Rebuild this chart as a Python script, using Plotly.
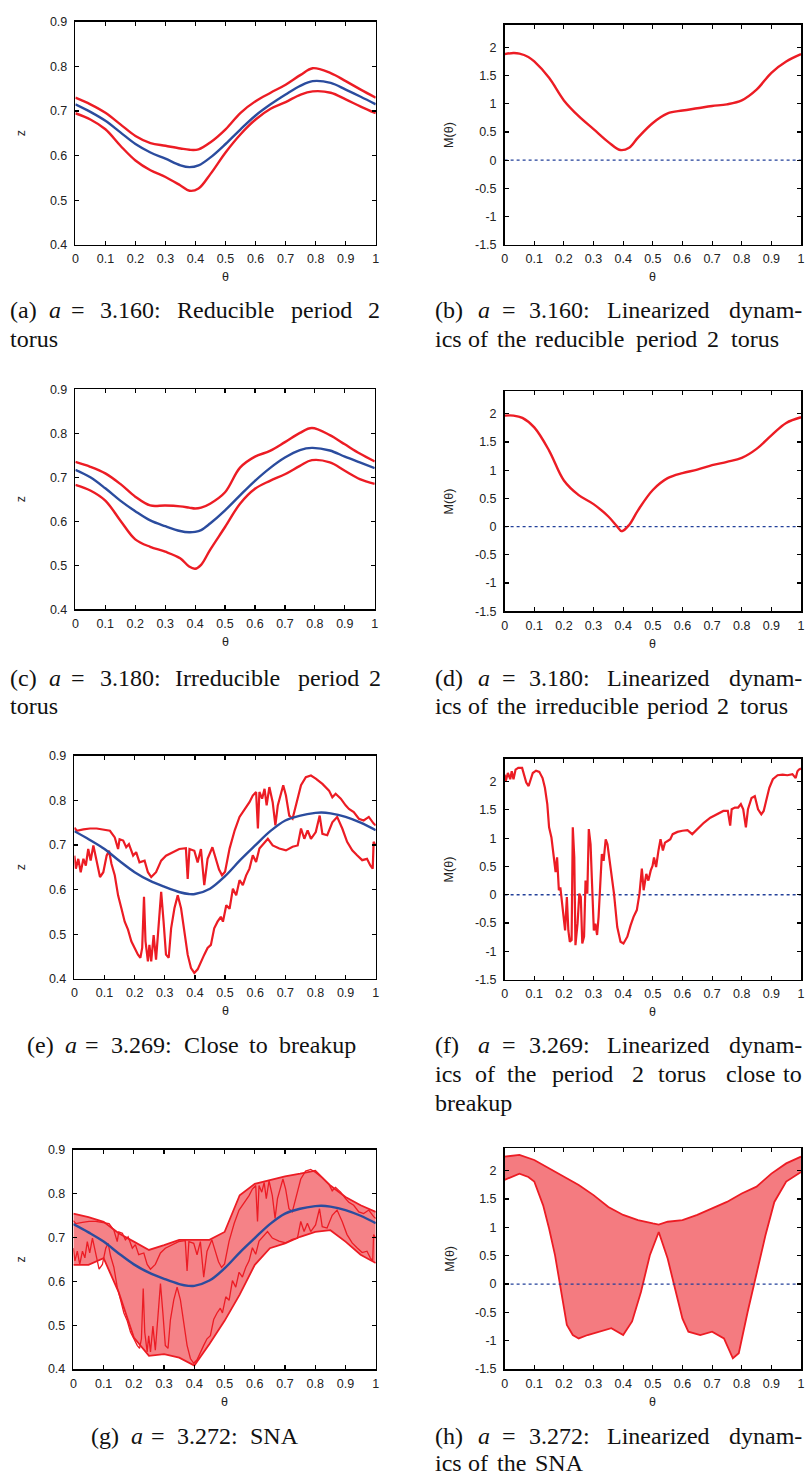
import plotly.graph_objects as go

W, H = 808, 1482
RED = "#ec1c24"
BLUE = "#2b4c9e"
NAVY = "#22409a"

# ---------------- data ----------------
x_ticks = [0, 0.1, 0.2, 0.3, 0.4, 0.5, 0.6, 0.7, 0.8, 0.9, 1.0]
x_ticktext = ["0", "0.1", "0.2", "0.3", "0.4", "0.5", "0.6", "0.7", "0.8", "0.9", "1"]
z_ticks = [0.4, 0.5, 0.6, 0.7, 0.8, 0.9]
z_ticktext = ["0.4", "0.5", "0.6", "0.7", "0.8", "0.9"]
m_ticks = [-1.5, -1, -0.5, 0, 0.5, 1, 1.5, 2]
m_ticktext = ["-1.5", "-1", "-0.5", "0", "0.5", "1", "1.5", "2"]

# (a) a = 3.160
theta_a = [0, 0.05, 0.1, 0.15, 0.2, 0.25, 0.3, 0.35, 0.38, 0.41, 0.45, 0.5, 0.55, 0.6,
           0.65, 0.7, 0.75, 0.79, 0.85, 0.9, 0.95, 1.0]
a_upper = [0.730, 0.715, 0.696, 0.670, 0.644, 0.628, 0.622, 0.616, 0.613, 0.614, 0.630, 0.659,
           0.696, 0.722, 0.741, 0.759, 0.781, 0.796, 0.785, 0.767, 0.748, 0.730]
a_mid = [0.715, 0.698, 0.678, 0.652, 0.626, 0.607, 0.593, 0.578, 0.574, 0.578, 0.596, 0.626,
         0.659, 0.690, 0.715, 0.737, 0.757, 0.767, 0.763, 0.748, 0.732, 0.715]
a_lower = [0.695, 0.681, 0.659, 0.622, 0.589, 0.567, 0.552, 0.533, 0.521, 0.526, 0.559, 0.607,
           0.648, 0.681, 0.705, 0.720, 0.737, 0.744, 0.741, 0.726, 0.710, 0.695]

# (b)
theta_b = [0, 0.03, 0.05, 0.08, 0.1, 0.15, 0.2, 0.25, 0.3, 0.35, 0.39, 0.42, 0.45, 0.5, 0.55,
           0.6, 0.65, 0.7, 0.75, 0.8, 0.85, 0.9, 0.95, 1.0]
b_M = [1.88, 1.90, 1.89, 1.83, 1.75, 1.46, 1.06, 0.78, 0.55, 0.32, 0.18, 0.22, 0.40, 0.66, 0.83,
       0.88, 0.92, 0.96, 0.99, 1.06, 1.25, 1.55, 1.75, 1.88]

# (c) a = 3.180
theta_c = [0, 0.05, 0.1, 0.15, 0.2, 0.25, 0.3, 0.35, 0.38, 0.4, 0.42, 0.45, 0.5, 0.55, 0.6,
           0.65, 0.7, 0.75, 0.79, 0.85, 0.9, 0.95, 1.0]
c_upper = [0.735, 0.724, 0.709, 0.685, 0.656, 0.636, 0.636, 0.634, 0.631, 0.629, 0.631, 0.640,
           0.666, 0.722, 0.747, 0.760, 0.780, 0.801, 0.812, 0.796, 0.775, 0.754, 0.736]
c_mid = [0.717, 0.700, 0.675, 0.647, 0.623, 0.602, 0.589, 0.578, 0.575, 0.576, 0.580, 0.595,
         0.625, 0.659, 0.692, 0.721, 0.745, 0.762, 0.767, 0.761, 0.747, 0.734, 0.721]
c_lower = [0.683, 0.670, 0.647, 0.602, 0.559, 0.542, 0.531, 0.516, 0.497, 0.492, 0.501, 0.535,
           0.587, 0.640, 0.674, 0.692, 0.707, 0.726, 0.739, 0.734, 0.715, 0.696, 0.685]

# (d)
theta_d = [0, 0.03, 0.06, 0.1, 0.15, 0.2, 0.25, 0.3, 0.35, 0.38, 0.395, 0.42, 0.45, 0.5, 0.55,
           0.6, 0.65, 0.7, 0.75, 0.8, 0.85, 0.9, 0.95, 1.0]
d_M = [1.97, 1.97, 1.93, 1.76, 1.35, 0.82, 0.56, 0.40, 0.18, 0.0, -0.08, 0.03, 0.29, 0.65, 0.86,
       0.95, 1.01, 1.09, 1.15, 1.22, 1.38, 1.62, 1.84, 1.94]

# (e) a = 3.269  (theta, z) pairs
e_upper = [(0, 0.739), (0.008, 0.732), (0.03, 0.735), (0.052, 0.737), (0.074, 0.737),
           (0.096, 0.734), (0.118, 0.732), (0.134, 0.717), (0.145, 0.691), (0.15, 0.713),
           (0.162, 0.710), (0.172, 0.695), (0.181, 0.702), (0.195, 0.676), (0.205, 0.684),
           (0.216, 0.661), (0.233, 0.665), (0.244, 0.639), (0.255, 0.628), (0.271, 0.639),
           (0.288, 0.665), (0.304, 0.676), (0.326, 0.684), (0.348, 0.691), (0.370, 0.693),
           (0.376, 0.624), (0.382, 0.691), (0.398, 0.687), (0.409, 0.661), (0.420, 0.691),
           (0.431, 0.610), (0.442, 0.669), (0.458, 0.695), (0.469, 0.669), (0.480, 0.645),
           (0.490, 0.632), (0.500, 0.640), (0.515, 0.692), (0.532, 0.733), (0.548, 0.763),
           (0.565, 0.781), (0.581, 0.796), (0.592, 0.811), (0.603, 0.819), (0.609, 0.737),
           (0.614, 0.819), (0.623, 0.804), (0.631, 0.826), (0.638, 0.789), (0.647, 0.830),
           (0.658, 0.796), (0.667, 0.744), (0.675, 0.789), (0.686, 0.815), (0.693, 0.834),
           (0.702, 0.811), (0.713, 0.766), (0.724, 0.759), (0.735, 0.789), (0.752, 0.834),
           (0.768, 0.852), (0.785, 0.856), (0.801, 0.849), (0.823, 0.837), (0.845, 0.822),
           (0.856, 0.807), (0.867, 0.815), (0.884, 0.804), (0.900, 0.789), (0.911, 0.781),
           (0.927, 0.774), (0.944, 0.759), (0.960, 0.755), (0.977, 0.763), (0.993, 0.748),
           (1.0, 0.744)]
e_lower = [(0, 0.676), (0.005, 0.647), (0.013, 0.669), (0.021, 0.639), (0.03, 0.669),
           (0.038, 0.654), (0.046, 0.691), (0.054, 0.665), (0.063, 0.699), (0.074, 0.661),
           (0.085, 0.628), (0.096, 0.639), (0.107, 0.676), (0.115, 0.687), (0.123, 0.658),
           (0.134, 0.632), (0.145, 0.587), (0.156, 0.558), (0.167, 0.528), (0.178, 0.510),
           (0.189, 0.484), (0.200, 0.469), (0.211, 0.454), (0.219, 0.447), (0.225, 0.469),
           (0.231, 0.584), (0.236, 0.484), (0.244, 0.439), (0.249, 0.476), (0.255, 0.439),
           (0.263, 0.498), (0.271, 0.443), (0.280, 0.528), (0.288, 0.595), (0.296, 0.528),
           (0.304, 0.454), (0.313, 0.447), (0.321, 0.513), (0.332, 0.558), (0.343, 0.587),
           (0.354, 0.558), (0.365, 0.510), (0.376, 0.454), (0.387, 0.424), (0.398, 0.413),
           (0.409, 0.421), (0.420, 0.439), (0.431, 0.454), (0.442, 0.469), (0.453, 0.476),
           (0.464, 0.513), (0.475, 0.528), (0.486, 0.539), (0.493, 0.528), (0.504, 0.565),
           (0.515, 0.557), (0.526, 0.602), (0.537, 0.587), (0.548, 0.621), (0.559, 0.610),
           (0.570, 0.632), (0.581, 0.647), (0.592, 0.677), (0.603, 0.662), (0.614, 0.692),
           (0.631, 0.707), (0.642, 0.714), (0.658, 0.699), (0.680, 0.692), (0.702, 0.688),
           (0.724, 0.696), (0.741, 0.699), (0.752, 0.737), (0.763, 0.714), (0.774, 0.733),
           (0.785, 0.714), (0.801, 0.729), (0.814, 0.766), (0.823, 0.725), (0.839, 0.722),
           (0.856, 0.751), (0.872, 0.763), (0.889, 0.737), (0.905, 0.707), (0.922, 0.688),
           (0.938, 0.677), (0.955, 0.666), (0.971, 0.669), (0.982, 0.654), (0.990, 0.647),
           (0.993, 0.707), (1.0, 0.699)]
e_mid = [(0, 0.731), (0.05, 0.712), (0.1, 0.691), (0.15, 0.664), (0.2, 0.639), (0.25, 0.620),
         (0.3, 0.606), (0.35, 0.594), (0.38, 0.590), (0.4, 0.590), (0.45, 0.602), (0.5, 0.630),
         (0.55, 0.666), (0.6, 0.699), (0.65, 0.731), (0.7, 0.755), (0.75, 0.766), (0.8, 0.772),
         (0.82, 0.773), (0.85, 0.771), (0.9, 0.763), (0.95, 0.750), (1.0, 0.733)]

# (f)  (theta, M) pairs
f_M = [(0, 2.12), (0.004, 2.01), (0.011, 2.15), (0.019, 2.04), (0.024, 2.18), (0.030, 2.04),
       (0.037, 2.21), (0.046, 2.24), (0.059, 2.24), (0.067, 2.09), (0.073, 1.98), (0.081, 1.92),
       (0.089, 2.04), (0.095, 2.15), (0.106, 2.19), (0.117, 2.17), (0.128, 2.06), (0.136, 1.89),
       (0.144, 1.60), (0.150, 1.19), (0.158, 1.01), (0.166, 0.66), (0.172, 0.40), (0.177, 0.66),
       (0.183, 0.08), (0.188, 0.13), (0.193, -0.10), (0.199, -0.39), (0.204, -0.63), (0.210, -0.04),
       (0.215, -0.63), (0.220, -0.83), (0.226, -0.80), (0.230, 1.19), (0.235, 0.66), (0.239, -0.89),
       (0.246, -0.51), (0.252, 0.02), (0.257, -0.04), (0.262, -0.86), (0.268, -0.74), (0.273, 0.25),
       (0.279, 0.02), (0.284, 1.16), (0.290, 0.89), (0.295, 0.19), (0.301, -0.63), (0.306, -0.51),
       (0.312, -0.71), (0.317, -0.39), (0.323, 0.37), (0.328, 0.72), (0.334, 0.60), (0.341, 0.98),
       (0.347, 0.89), (0.358, 0.43), (0.369, 0.02), (0.380, -0.57), (0.391, -0.83), (0.401, -0.86),
       (0.414, -0.74), (0.425, -0.54), (0.435, -0.39), (0.446, -0.27), (0.455, 0.02), (0.463, 0.46),
       (0.469, 0.08), (0.478, 0.37), (0.485, 0.25), (0.493, 0.43), (0.499, 0.51), (0.504, 0.66),
       (0.511, 0.49), (0.519, 0.78), (0.526, 0.98), (0.534, 0.78), (0.541, 0.92), (0.550, 0.95),
       (0.559, 0.98), (0.567, 1.07), (0.583, 1.11), (0.600, 1.13), (0.617, 1.14), (0.633, 1.07),
       (0.650, 1.16), (0.672, 1.27), (0.694, 1.36), (0.716, 1.42), (0.738, 1.48), (0.753, 1.48),
       (0.761, 1.22), (0.766, 1.51), (0.777, 1.54), (0.788, 1.54), (0.797, 1.60), (0.805, 1.51),
       (0.814, 1.19), (0.821, 1.51), (0.833, 1.71), (0.844, 1.74), (0.855, 1.51), (0.866, 1.42),
       (0.874, 1.48), (0.882, 1.65), (0.893, 1.89), (0.905, 2.04), (0.921, 2.11), (0.938, 2.12),
       (0.954, 2.11), (0.971, 2.13), (0.982, 2.06), (0.988, 2.18), (0.993, 2.21), (1.0, 2.23)]

# (g) a = 3.272 SNA: envelope of the attractor cloud
theta_g = [0, 0.05, 0.1, 0.15, 0.2, 0.25, 0.3, 0.35, 0.4, 0.45, 0.5, 0.55, 0.6, 0.65, 0.7,
           0.75, 0.8, 0.85, 0.9, 0.95, 1.0]
g_top = [0.755, 0.747, 0.736, 0.710, 0.691, 0.672, 0.683, 0.695, 0.695, 0.695, 0.713, 0.797,
         0.823, 0.831, 0.840, 0.846, 0.853, 0.819, 0.793, 0.774, 0.759]
g_bottom = [0.638, 0.638, 0.653, 0.575, 0.472, 0.430, 0.434, 0.426, 0.408, 0.457, 0.510, 0.570,
            0.638, 0.676, 0.687, 0.702, 0.713, 0.717, 0.691, 0.661, 0.642]

# (h) envelope of M(theta) on the SNA
h_top = [(0, 2.25), (0.05, 2.28), (0.1, 2.19), (0.15, 2.04), (0.2, 1.89), (0.25, 1.75),
         (0.3, 1.57), (0.35, 1.36), (0.4, 1.22), (0.45, 1.13), (0.5, 1.07), (0.52, 1.05),
         (0.55, 1.10), (0.6, 1.13), (0.65, 1.22), (0.7, 1.34), (0.75, 1.45), (0.8, 1.60),
         (0.85, 1.72), (0.9, 1.95), (0.95, 2.13), (1.0, 2.25)]
h_bottom = [(0, 1.84), (0.05, 1.95), (0.08, 1.89), (0.1, 1.81), (0.13, 1.39), (0.15, 0.98),
            (0.17, 0.51), (0.19, -0.14), (0.21, -0.72), (0.23, -0.90), (0.25, -0.96), (0.28, -0.90),
            (0.32, -0.84), (0.36, -0.78), (0.4, -0.90), (0.43, -0.66), (0.46, -0.14), (0.49, 0.51),
            (0.52, 0.92), (0.55, 0.45), (0.58, -0.19), (0.6, -0.61), (0.62, -0.84), (0.66, -0.90),
            (0.7, -0.84), (0.74, -0.96), (0.77, -1.31), (0.79, -1.22), (0.82, -0.49), (0.85, 0.16),
            (0.88, 0.86), (0.91, 1.45), (0.95, 1.81), (1.0, 1.98)]

# captions: words of each line
captions = {
    "a": [["(a)", "<i>a</i>", "=", "3.160:", "Reducible", "period", "2"], ["torus"]],
    "b": [["(b)", "<i>a</i>", "=", "3.160:", "Linearized", "dynam-"],
          ["ics", "of", "the", "reducible", "period", "2", "torus"]],
    "c": [["(c)", "<i>a</i>", "=", "3.180:", "Irreducible", "period", "2"], ["torus"]],
    "d": [["(d)", "<i>a</i>", "=", "3.180:", "Linearized", "dynam-"],
          ["ics", "of", "the", "irreducible", "period", "2", "torus"]],
    "e": [["(e)", "<i>a</i>", "=", "3.269:", "Close", "to", "breakup"]],
    "f": [["(f)", "<i>a</i>", "=", "3.269:", "Linearized", "dynam-"],
          ["ics", "of", "the", "period", "2", "torus", "close", "to"], ["breakup"]],
    "g": [["(g)", "<i>a</i>", "=", "3.272:", "SNA"]],
    "h": [["(h)", "<i>a</i>", "=", "3.272:", "Linearized", "dynam-"],
          ["ics", "of", "the", "SNA"]],
}

# ---------------- layout geometry (pixels) ----------------
# left x of each word; negative value = right edge (right-anchored)
word_x = {
    "a": [[6, 45, 68, 97, 175, 290, 367], [6]],
    "b": [[435, 478, 502, 530, 608, -807], [435, 468, 497, 536, 638, 709, 733]],
    "c": [[6, 45, 68, 97, 172, 297, 368], [6]],
    "d": [[435, 478, 502, 530, 608, -807], [435, 468, 497, 536, 649, 719, 742]],
    "e": [[23, 62, 82, 108, 182, 247, 277]],
    "f": [[435, 478, 502, 530, 608, -807], [435, 475, 507, 553, 633, 660, 728, -807], [435]],
    "g": [[88, 128, 148, 175, 248]],
    "h": [[435, 478, 502, 530, 608, -807], [435, 468, 497, 536]],
}
line_y = {"a": [306, 335], "b": [306, 335], "c": [677, 706], "d": [677, 706],
          "e": [1048], "f": [1048, 1077, 1106], "g": [1443], "h": [1443, 1470]}

boxes = {  # x0, x1, y_top, y_bottom
    "a": (73, 376, 15, 240), "b": (506, 805, 18, 240),
    "c": (73, 375, 386, 608), "d": (506, 805, 388, 610),
    "e": (72, 376, 756, 981), "f": (506, 805, 759, 982),
    "g": (71, 376, 1154, 1375), "h": (506, 805, 1152, 1375),
}
order = ["a", "b", "c", "d", "e", "f", "g", "h"]


def fx(px):
    return px / W


def fy(py):
    return 1 - py / H


def unzip(pairs):
    return [p[0] for p in pairs], [p[1] for p in pairs]


fig = go.Figure()


def ax_name(i, kind):
    return kind if i == 0 else f"{kind}{i + 1}"


def add(panel, x, y, color, width, shape="linear", dash="solid", fill=None, fillcolor=None):
    i = order.index(panel)
    fig.add_trace(go.Scatter(
        x=x, y=y, mode="lines",
        line=dict(color=color, width=width, shape=shape, dash=dash),
        fill=fill, fillcolor=fillcolor,
        xaxis=ax_name(i, "x"), yaxis=ax_name(i, "y"), hoverinfo="skip"))


# (a)
add("a", theta_a, a_upper, RED, 2.4, "spline")
add("a", theta_a, a_lower, RED, 2.4, "spline")
add("a", theta_a, a_mid, BLUE, 2.4, "spline")
# (b)
add("b", [0, 1], [0, 0], NAVY, 1.3, dash="dot")
add("b", theta_b, b_M, RED, 2.4, "spline")
# (c)
add("c", theta_c, c_upper, RED, 2.4, "spline")
add("c", theta_c, c_lower, RED, 2.4, "spline")
add("c", theta_c, c_mid, BLUE, 2.4, "spline")
# (d)
add("d", [0, 1], [0, 0], NAVY, 1.3, dash="dot")
add("d", theta_d, d_M, RED, 2.4, "spline")
# (e)
ex, ey = unzip(e_upper)
add("e", ex, ey, RED, 2.2)
ex, ey = unzip(e_lower)
add("e", ex, ey, RED, 2.2)
ex, ey = unzip(e_mid)
add("e", ex, ey, BLUE, 2.4, "spline")
# (f)
add("f", [0, 1], [0, 0], NAVY, 1.3, dash="dot")
fx_, fy_ = unzip(f_M)
add("f", fx_, fy_, RED, 2.2)
# (g)
add("g", theta_g, g_bottom, RED, 1.8)
add("g", theta_g, g_top, RED, 1.8, fill="tonexty", fillcolor="rgba(236,28,36,0.55)")
ex, ey = unzip(e_upper)
add("g", ex, ey, RED, 1.3)
ex, ey = unzip(e_lower)
add("g", ex, ey, RED, 1.3)
ex, ey = unzip(e_mid)
add("g", ex, ey, BLUE, 2.4, "spline")
# (h)
hx, hy = unzip(h_bottom)
add("h", hx, hy, RED, 1.8)
hx, hy = unzip(h_top)
add("h", hx, hy, RED, 1.8, fill="tonexty", fillcolor="rgba(236,28,36,0.58)")
add("h", [0, 1], [0, 0], NAVY, 1.3, dash="dot")

tickfont = dict(family="Liberation Sans, Arial, sans-serif", size=12.5, color="#222")
layout = {}
for i, p in enumerate(order):
    x0, x1, yt, yb = boxes[p]
    common = dict(showline=True, linecolor="black", linewidth=1.6, mirror="ticks",
                  ticks="inside", ticklen=4, tickwidth=1.2, tickcolor="black",
                  showgrid=False, zeroline=False, tickfont=tickfont, fixedrange=True)
    xa = dict(common, domain=[fx(x0), fx(x1)], range=[0, 1], tickvals=x_ticks,
              ticktext=x_ticktext, anchor=ax_name(i, "y"), ticklabelstandoff=2)
    if p in "aceg":
        ya = dict(common, domain=[fy(yb), fy(yt)], range=[0.4, 0.9], tickvals=z_ticks,
                  ticktext=z_ticktext, anchor=ax_name(i, "x"), ticklabelstandoff=4)
    else:
        ya = dict(common, domain=[fy(yb), fy(yt)], range=[-1.5, 2.4], tickvals=m_ticks,
                  ticktext=m_ticktext, anchor=ax_name(i, "x"), ticklabelstandoff=4)
    layout["xaxis" if i == 0 else f"xaxis{i + 1}"] = xa
    layout["yaxis" if i == 0 else f"yaxis{i + 1}"] = ya

annotations = []
labfont = dict(family="Liberation Sans, Arial, sans-serif", size=12.5, color="#222")
capfont = dict(family="Liberation Serif, Times New Roman, serif", size=24, color="#111")
for p in order:
    x0, x1, yt, yb = boxes[p]
    annotations.append(dict(x=fx((x0 + x1) / 2), y=fy(yb + 33), xref="paper", yref="paper",
                            text="θ", showarrow=False, font=labfont,
                            xanchor="center", yanchor="middle"))
    ylab = "z" if p in "aceg" else "M(θ)"
    ylx = 18 if p in "aceg" else 450
    annotations.append(dict(x=fx(ylx), y=fy((yt + yb) / 2), xref="paper", yref="paper",
                            text=ylab, showarrow=False, font=labfont, textangle=-90,
                            xanchor="center", yanchor="middle"))
    for li, words in enumerate(captions[p]):
        for w, xw in zip(words, word_x[p][li]):
            anchor = "left" if xw >= 0 else "right"
            annotations.append(dict(x=fx(abs(xw)), y=fy(line_y[p][li]), xref="paper",
                                    yref="paper", text=w, showarrow=False, font=capfont,
                                    xanchor=anchor, yanchor="middle", borderpad=0))

fig.update_layout(width=W, height=H, margin=dict(l=0, r=0, t=0, b=0),
                  paper_bgcolor="white", plot_bgcolor="white", showlegend=False,
                  annotations=annotations, **layout)

fig.write_html("out.html", config={"displayModeBar": False, "staticPlot": True},
               post_script="document.body.style.margin='0';"
                           "document.documentElement.style.overflow='hidden';")
